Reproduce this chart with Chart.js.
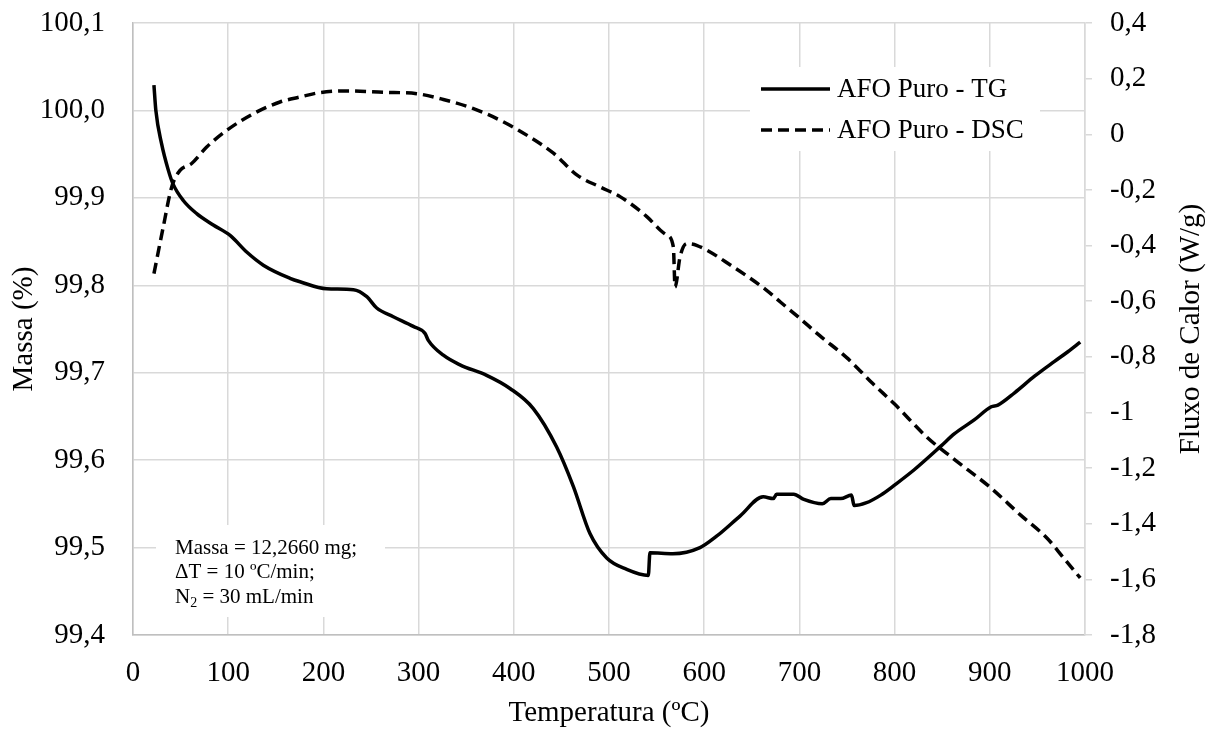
<!DOCTYPE html>
<html>
<head>
<meta charset="utf-8">
<script src="https://cdn.jsdelivr.net/npm/chart.js@4/dist/chart.umd.min.js"></script>
<style>
  html, body { margin: 0; padding: 0; background: #fff; }
  #wrap { width: 1216px; height: 731px; }
</style>
</head>
<body>
<div id="wrap"><canvas id="chart" width="1216" height="731"></canvas></div>
<script>
// TG curve (temperature in ºC, mass in %)
var tgTemp = [22, 24, 30, 37, 42, 52.8, 66.9, 84.3, 102, 119.4, 136.9, 164.9, 175.5, 203.5, 231.6,
  245.6, 256, 273.4, 294.4, 306.7, 310.2, 326, 343.5, 371.5, 396, 420.5, 445, 462.5, 480, 497.6,
  518.6, 541.3, 543, 567, 595.6, 613, 637.6, 662, 672.6, 676, 694, 704.7, 724, 733, 743.5, 754.7,
  757.5, 769.8, 785.5, 800.6, 820.6, 848.6, 862.6, 883.6, 901.5, 908.5, 926, 947, 968, 982, 995];
var tgMass = [100.029, 100.000, 99.962, 99.932, 99.916, 99.897, 99.882, 99.869, 99.857, 99.838, 99.823,
  99.808, 99.804, 99.796, 99.795, 99.787, 99.774, 99.764, 99.753, 99.745, 99.737, 99.720, 99.709,
  99.697, 99.682, 99.659, 99.615, 99.570, 99.516, 99.488, 99.475, 99.468, 99.494, 99.493, 99.500,
  99.513, 99.536, 99.558, 99.556, 99.561, 99.561, 99.555, 99.550, 99.556, 99.556, 99.560, 99.548,
  99.551, 99.560, 99.572, 99.589, 99.616, 99.630, 99.646, 99.661, 99.663, 99.677, 99.696, 99.713,
  99.724, 99.735];

// DSC curve (temperature in ºC, heat flow in W/g)
var dscTemp = [22, 31.8, 40.6, 49.4, 61.6, 77.4, 98.4, 126.4, 154.4, 175.5, 196.5, 228, 263, 298, 326,
  357.6, 386, 414, 442, 466.5, 491, 512, 540, 554, 560.6, 567.6, 569.4, 574.6, 581.6, 592, 630.6,
  665.6, 680, 697.5, 721.7, 749.7, 777.6, 800, 834, 862, 900, 932.7, 960.7, 978, 995];
var dscFlow = [-0.501, -0.333, -0.190, -0.130, -0.105, -0.046, 0.014, 0.074, 0.116, 0.134, 0.150, 0.156,
  0.151, 0.146, 0.125, 0.092, 0.050, -0.004, -0.069, -0.147, -0.190, -0.225, -0.297, -0.345, -0.362,
  -0.405, -0.549, -0.441, -0.393, -0.399, -0.477, -0.561, -0.603, -0.653, -0.725, -0.803, -0.898,
  -0.970, -1.089, -1.167, -1.268, -1.370, -1.454, -1.525, -1.595];

var infoLines = ['Massa = 12,2660 mg;', '\u0394T = 10 \u00baC/min;', 'N|2| = 30 mL/min'];
var rightTitle = 'Fluxo de Calor (W/g)';

var SERIF = '"Liberation Serif", "Times New Roman", serif';
var GRID = '#d9d9d9';

function toPoints(xs, ys) {
  return xs.map(function(x, i) { return { x: x, y: ys[i] }; });
}

function comma(v, digits) {
  return v.toFixed(digits).replace('.', ',');
}

// tick padding would otherwise push the plot area down
function fixWidth(w) {
  return function(s) {
    s.width = w;
    s.paddingTop = 0;
    s.paddingBottom = 0;
  };
}

var boxesPlugin = {
  id: 'boxes',
  afterDraw: function(chart) {
    var ctx = chart.ctx;
    var area = chart.chartArea;
    ctx.save();
    // legend
    ctx.fillStyle = '#fff';
    ctx.fillRect(750, 67, 290, 84);
    var rows = [89, 130];
    chart.data.datasets.forEach(function(ds, i) {
      ctx.beginPath();
      ctx.strokeStyle = ds.borderColor;
      ctx.lineWidth = ds.borderWidth;
      ctx.lineCap = 'butt';
      ctx.setLineDash(ds.borderDash || []);
      ctx.moveTo(761, rows[i]);
      ctx.lineTo(830, rows[i]);
      ctx.stroke();
      ctx.setLineDash([]);
      ctx.fillStyle = '#000';
      ctx.font = '27px ' + SERIF;
      ctx.textBaseline = 'middle';
      ctx.fillText(ds.label, 837, rows[i] + 1);
    });
    // info box
    ctx.fillStyle = '#fff';
    ctx.fillRect(156, 525, 229, 92);
    ctx.fillStyle = '#000';
    ctx.textBaseline = 'middle';
    var ys = [548, 572, 597];
    infoLines.forEach(function(line, i) {
      var parts = line.split('|');
      var x = 175;
      parts.forEach(function(p, j) {
        if (j % 2 === 1) {
          ctx.font = '14px ' + SERIF;
          ctx.fillText(p, x, ys[i] + 6);
        } else {
          ctx.font = '21px ' + SERIF;
          ctx.fillText(p, x, ys[i]);
        }
        x += ctx.measureText(p).width;
      });
    });
    // right axis title, read bottom to top like the left one
    ctx.translate(1191, (area.top + area.bottom) / 2);
    ctx.rotate(-Math.PI / 2);
    ctx.font = '29px ' + SERIF;
    ctx.textAlign = 'center';
    ctx.textBaseline = 'middle';
    ctx.fillText(rightTitle, 0, 0);
    ctx.restore();
  }
};

new Chart(document.getElementById('chart'), {
  type: 'line',
  data: {
    datasets: [
      {
        label: 'AFO Puro - TG',
        data: toPoints(tgTemp, tgMass),
        yAxisID: 'y',
        borderColor: '#000',
        borderWidth: 3.5,
        pointRadius: 0,
        cubicInterpolationMode: 'monotone',
        fill: false
      },
      {
        label: 'AFO Puro - DSC',
        data: toPoints(dscTemp, dscFlow),
        yAxisID: 'y2',
        borderColor: '#000',
        borderWidth: 3.5,
        borderDash: [11, 6],
        borderCapStyle: 'butt',
        pointRadius: 0,
        cubicInterpolationMode: 'monotone',
        fill: false
      }
    ]
  },
  options: {
    responsive: false,
    animation: false,
    layout: { padding: { top: 23, left: 0, right: 0, bottom: 0 } },
    plugins: {
      legend: { display: false },
      tooltip: { enabled: false }
    },
    scales: {
      x: {
        type: 'linear',
        min: 0,
        max: 1000,
        afterFit: function(s) { s.height = 96; },
        ticks: {
          stepSize: 100,
          padding: 21,
          color: '#000',
          font: { family: SERIF, size: 29 },
          maxRotation: 0,
          callback: function(v) { return String(v); }
        },
        grid: { color: GRID, lineWidth: 1.5, drawTicks: false },
        border: { color: '#bfbfbf', width: 1.5 },
        title: {
          display: true,
          text: 'Temperatura (\u00baC)',
          color: '#000',
          font: { family: SERIF, size: 29 },
          padding: { top: 0, bottom: 0 }
        }
      },
      y: {
        position: 'left',
        min: 99.4,
        max: 100.1,
        afterFit: fixWidth(133),
        ticks: {
          stepSize: 0.1,
          padding: 28,
          color: '#000',
          font: { family: SERIF, size: 29 },
          callback: function(v) { return comma(v, 1); }
        },
        grid: { color: GRID, lineWidth: 1.5, drawTicks: false },
        border: { color: '#bfbfbf', width: 1.5 },
        title: {
          display: true,
          text: 'Massa (%)',
          color: '#000',
          font: { family: SERIF, size: 29 },
          padding: { top: 7, bottom: 0 }
        }
      },
      y2: {
        position: 'right',
        min: -1.8,
        max: 0.4,
        afterFit: fixWidth(131),
        ticks: {
          stepSize: 0.2,
          padding: 18,
          color: '#000',
          font: { family: SERIF, size: 29 },
          callback: function(v) {
            var r = Math.round(v * 10) / 10;
            if (Math.abs(r) < 1e-9) return '0';
            return Number.isInteger(r) ? String(r) : comma(r, 1);
          }
        },
        grid: { drawOnChartArea: false, color: GRID, lineWidth: 1.5, tickLength: 7 },
        border: { color: GRID, width: 1.5 }
      }
    }
  },
  plugins: [boxesPlugin]
});
</script>
</body>
</html>
